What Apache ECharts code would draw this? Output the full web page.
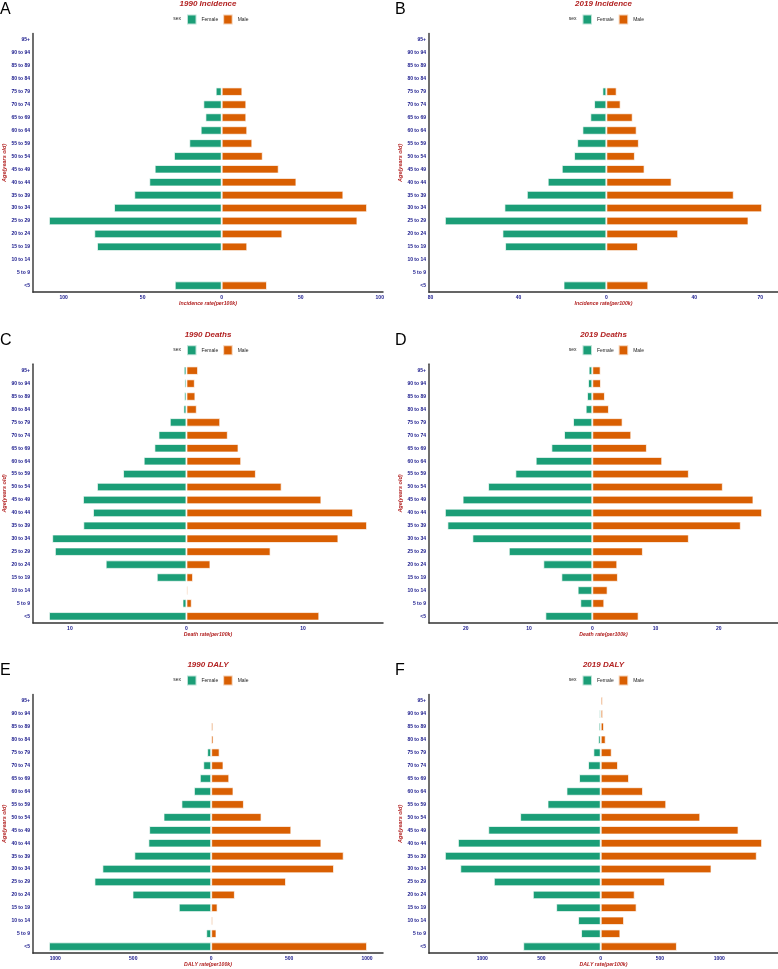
<!DOCTYPE html>
<html>
<head>
<meta charset="utf-8">
<title>Age pyramids</title>
<script src="https://cdn.jsdelivr.net/npm/echarts@6/dist/echarts.min.js"></script>
<style>
  html, body { margin: 0; padding: 0; background: #fff; }
  #main { width: 778px; height: 969px; }
</style>
</head>
<body>
<div id="main"></div>
<script>
// age groups, bottom to top
var ages = ['<5', '5 to 9', '10 to 14', '15 to 19', '20 to 24', '25 to 29', '30 to 34', '35 to 39',
  '40 to 44', '45 to 49', '50 to 54', '55 to 59', '60 to 64', '65 to 69', '70 to 74', '75 to 79',
  '80 to 84', '85 to 89', '90 to 94', '95+'];

// rates per 100k, same order as ages
var incid1990F = [29.7, 0, 0, 78.9, 80.6, 109.3, 68.1, 55.3, 45.8, 42.4, 30.2, 20.5, 13.3, 10.3, 11.6, 3.8, 0, 0, 0, 0];
var incid1990M = [28.7, 0, 0, 16.2, 38.4, 85.9, 92.0, 77.0, 47.3, 36.1, 26.0, 19.4, 16.2, 15.6, 15.6, 13.1, 0, 0, 0, 0];
var incid2019F = [19.5, 0, 0, 46.1, 47.3, 73.5, 46.4, 36.2, 26.7, 20.3, 14.7, 13.3, 10.9, 7.3, 5.6, 1.8, 0, 0, 0, 0];
var incid2019M = [19.1, 0, 0, 14.4, 32.7, 64.7, 70.9, 58.0, 29.7, 17.4, 13.0, 14.8, 13.8, 12.0, 6.5, 4.7, 0, 0, 0, 0];
var death1990F = [11.8, 0.34, 0.06, 2.55, 6.93, 11.29, 11.52, 8.85, 8.02, 8.88, 7.68, 5.44, 3.67, 2.75, 2.4, 1.43, 0.26, 0.2, 0.17, 0.23];
var death1990M = [11.4, 0.46, 0.14, 0.57, 2.06, 7.22, 13.04, 15.5, 14.3, 11.58, 8.17, 5.96, 4.7, 4.47, 3.55, 2.9, 0.89, 0.77, 0.72, 1.0];
var death2019F = [7.42, 1.9, 2.32, 4.89, 7.74, 13.2, 18.95, 22.9, 23.3, 20.5, 16.47, 12.16, 8.95, 6.47, 4.47, 3.05, 1.05, 0.84, 0.68, 0.58];
var death2019M = [7.32, 1.9, 2.42, 4.05, 3.95, 8.0, 15.26, 23.47, 26.84, 25.47, 20.63, 15.26, 11.05, 8.63, 6.16, 4.79, 2.63, 2.0, 1.37, 1.32];
var daly1990F = [1041, 32, 6, 208, 505, 749, 698, 493, 403, 398, 306, 191, 111, 73, 51, 26, 3, 2, 2, 2];
var daly1990M = [1000, 34, 11, 41, 152, 480, 788, 850, 707, 514, 323, 210, 143, 116, 79, 54, 15, 13, 6, 6];
var daly2019F = [654, 166, 191, 376, 573, 902, 1185, 1315, 1205, 949, 680, 449, 289, 183, 107, 62, 22, 17, 14, 8];
var daly2019M = [643, 166, 197, 303, 287, 542, 935, 1317, 1362, 1163, 840, 553, 357, 239, 146, 93, 42, 28, 20, 17];

// x tick labels (shown as absolute values)
var ticksIncid1990 = [-100, -50, 0, 50, 100];
var ticksIncid2019 = [-80, -40, 0, 40, 70];
var ticksDeath1990 = [-10, 0, 10];
var ticksDeath2019 = [-20, -10, 0, 10, 20];
var ticksDaly = [-1000, -500, 0, 500, 1000];

var panels = [
  { letter: 'A', title: '1990 Incidence', xName: 'Incidence rate(per100k)', f: incid1990F, m: incid1990M, ticks: ticksIncid1990, col: 0, row: 0 },
  { letter: 'B', title: '2019 Incidence', xName: 'Incidence rate(per100k)', f: incid2019F, m: incid2019M, ticks: ticksIncid2019, col: 1, row: 0 },
  { letter: 'C', title: '1990 Deaths', xName: 'Death rate(per100k)', f: death1990F, m: death1990M, ticks: ticksDeath1990, col: 0, row: 1 },
  { letter: 'D', title: '2019 Deaths', xName: 'Death rate(per100k)', f: death2019F, m: death2019M, ticks: ticksDeath2019, col: 1, row: 1 },
  { letter: 'E', title: '1990 DALY', xName: 'DALY rate(per100k)', f: daly1990F, m: daly1990M, ticks: ticksDaly, col: 0, row: 2 },
  { letter: 'F', title: '2019 DALY', xName: 'DALY rate(per100k)', f: daly2019F, m: daly2019M, ticks: ticksDaly, col: 1, row: 2 }
];

var colLeft = [33, 429], colWidth = [350, 349];
var rowTop = [33.5, 364.2, 694.5], gridH = 258.6;
var FONT = '"Liberation Sans", Arial, sans-serif';
var RED = '#b22222', BLUE = '#16168a';
var FEMALE = '#1b9e77', MALE = '#d95f02';

var grids = [], xAxes = [], yAxes = [], series = [], legends = [], graphics = [];

panels.forEach(function (p, i) {
  var left = colLeft[p.col], width = colWidth[p.col], top = rowTop[p.row];
  var cx = left + width / 2;
  var fMax = Math.max.apply(null, p.f), mMax = Math.max.apply(null, p.m);
  var pad = 0.05 * (fMax + mMax);

  grids.push({ left: left, top: top, width: width, height: gridH });

  xAxes.push({
    type: 'value', gridIndex: i, min: -(fMax + pad), max: mMax + pad,
    name: p.xName, nameLocation: 'middle', nameGap: 9,
    nameTextStyle: { color: RED, fontStyle: 'italic', fontWeight: 'bold', fontSize: 5.2, fontFamily: FONT },
    axisLine: { show: true, onZero: false, lineStyle: { color: '#333', width: 1.5 } },
    axisTick: { show: false },
    splitLine: { show: false },
    axisLabel: {
      customValues: p.ticks, margin: 3, color: BLUE, fontWeight: 'bold', fontSize: 5, fontFamily: FONT,
      formatter: function (v) { return String(Math.abs(v)); }
    }
  });

  yAxes.push({
    type: 'category', gridIndex: i, data: ages,
    name: 'Age(years old)', nameLocation: 'middle', nameGap: 24, nameRotate: 90,
    nameTextStyle: { color: RED, fontStyle: 'italic', fontWeight: 'bold', fontSize: 5.5, fontFamily: FONT },
    axisLine: { show: true, onZero: false, lineStyle: { color: '#555', width: 1.7 } },
    axisTick: { show: false },
    axisLabel: { margin: 3, color: BLUE, fontWeight: 'bold', fontSize: 5, fontFamily: FONT, interval: 0 }
  });

  series.push({
    name: 'Female', type: 'bar', xAxisIndex: i, yAxisIndex: i, stack: 'p' + i,
    barWidth: '66%',
    data: p.f.map(function (v) { return -v; }),
    itemStyle: { color: FEMALE, borderColor: 'rgba(255,255,255,0.7)', borderWidth: 1 }
  });
  series.push({
    name: 'Male', type: 'bar', xAxisIndex: i, yAxisIndex: i, stack: 'p' + i,
    barWidth: '66%',
    data: p.m,
    itemStyle: { color: MALE, borderColor: 'rgba(255,255,255,0.7)', borderWidth: 1 }
  });

  legends.push({
    data: ['Female', 'Male'], left: cx - 22, top: top - 15 - 5, padding: 0,
    itemWidth: 9.5, itemHeight: 10, itemGap: 4, icon: 'rect', selectedMode: false,
    textStyle: { fontSize: 5, color: '#222', fontFamily: FONT }
  });

  graphics.push({
    type: 'text', x: cx, y: top - 29.5,
    style: { text: p.title, fill: RED, font: 'italic bold 8px ' + FONT, textAlign: 'center', textVerticalAlign: 'middle' }
  });
  graphics.push({
    type: 'text', x: cx - 27, y: top - 15,
    style: { text: 'sex', fill: '#222', font: '5px ' + FONT, textAlign: 'right', textVerticalAlign: 'middle' }
  });
  graphics.push({
    type: 'text', x: p.col === 0 ? 0 : 395, y: top - 24,
    style: { text: p.letter, fill: '#000', font: '16px ' + FONT, textAlign: 'left', textVerticalAlign: 'middle' }
  });
});

var chart = echarts.init(document.getElementById('main'), null, { renderer: 'canvas' });
chart.setOption({
  animation: false,
  backgroundColor: '#fff',
  grid: grids,
  xAxis: xAxes,
  yAxis: yAxes,
  legend: legends,
  series: series,
  graphic: graphics
});
</script>
</body>
</html>
